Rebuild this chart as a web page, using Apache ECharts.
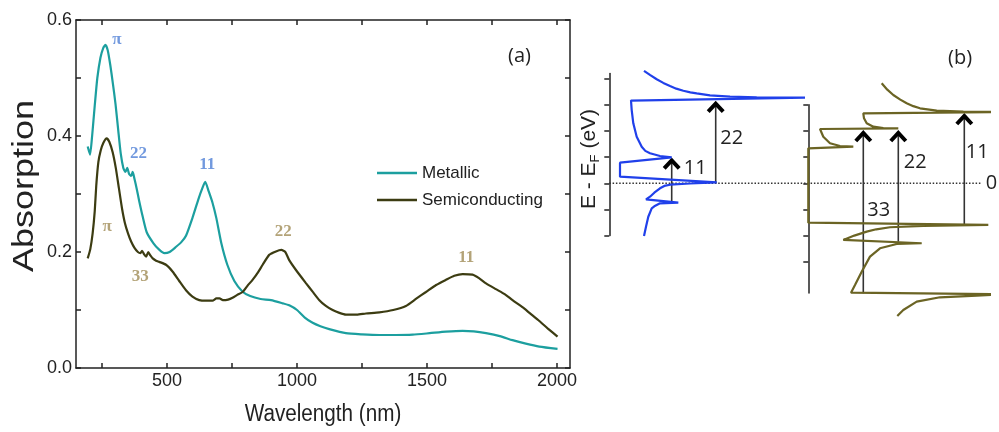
<!DOCTYPE html>
<html>
<head>
<meta charset="utf-8">
<script src="https://cdn.jsdelivr.net/npm/echarts@6/dist/echarts.min.js"></script>
<style>
html, body { margin: 0; padding: 0; background: #ffffff; }
#chart { width: 999px; height: 432px; }
</style>
</head>
<body>
<div id="chart"></div>
<script>
// ---------- (a) absorption spectra: [wavelength (nm), absorption] ----------
const metallic = [
  [195,0.382],[204,0.368],[212,0.40],[222,0.452],[232,0.50],[244,0.535],[255,0.552],[263,0.557],
  [272,0.548],[282,0.522],[292,0.49],[302,0.455],[312,0.412],[322,0.37],[332,0.345],[340,0.338],
  [347,0.345],[354,0.335],[362,0.331],[368,0.338],[375,0.326],[383,0.31],[393,0.288],[406,0.262],
  [422,0.234],[448,0.215],[470,0.204],[490,0.198],[510,0.200],[535,0.209],[555,0.217],[573,0.228],
  [598,0.259],[620,0.290],[636,0.310],[647,0.321],[660,0.305],[675,0.285],[690,0.258],[709,0.215],
  [732,0.178],[759,0.150],[790,0.132],[820,0.124],[860,0.119],[900,0.117],[945,0.1115],[970,0.108],
  [1000,0.100],[1030,0.087],[1060,0.078],[1090,0.072],[1124,0.067],[1188,0.060],[1250,0.058],
  [1317,0.0569],[1380,0.0569],[1445,0.0575],[1510,0.060],[1573,0.0626],[1637,0.064],[1680,0.063],
  [1727,0.060],[1780,0.055],[1829,0.048],[1880,0.042],[1932,0.037],[2002,0.033]
];
const semiconducting = [
  [195,0.189],[205,0.205],[214,0.232],[222,0.27],[228,0.315],[236,0.355],[245,0.375],[255,0.388],
  [268,0.396],[278,0.39],[291,0.372],[303,0.345],[315,0.31],[327,0.275],[338,0.25],[350,0.232],
  [362,0.218],[375,0.207],[388,0.2],[398,0.198],[404,0.202],[412,0.196],[420,0.192],[428,0.2],
  [436,0.194],[445,0.189],[458,0.185],[470,0.183],[496,0.178],[522,0.166],[547,0.15],[573,0.134],
  [598,0.123],[624,0.117],[650,0.116],[675,0.116],[690,0.12],[702,0.12],[715,0.117],[735,0.118],
  [752,0.121],[770,0.126],[791,0.131],[810,0.142],[829,0.152],[850,0.165],[868,0.178],[893,0.195],
  [919,0.201],[940,0.2035],[955,0.2],[970,0.186],[996,0.169],[1035,0.146],[1060,0.1316],[1086,0.117],
  [1111,0.107],[1137,0.1],[1163,0.095],[1188,0.092],[1230,0.092],[1265,0.094],[1317,0.096],
  [1370,0.1],[1419,0.107],[1460,0.12],[1496,0.131],[1535,0.143],[1573,0.152],[1605,0.159],
  [1637,0.162],[1675,0.161],[1700,0.155],[1727,0.146],[1765,0.136],[1800,0.127],[1829,0.117],
  [1870,0.104],[1894,0.095],[1932,0.081],[1965,0.068],[2002,0.054]
];
const xTickLabels = [500, 1000, 1500, 2000];
const xTicks = [250, 500, 750, 1000, 1250, 1500, 1750, 2000];
const yTickLabels = [0, 0.2, 0.4, 0.6];
const yTicks = [0, 0.1, 0.2, 0.3, 0.4, 0.5, 0.6];

// peak assignments, anchored at [nm, absorption]
const metallicPeakText = ['π', '22', '11'];
const metallicPeakAt = [[307, 0.5655], [390, 0.369], [655, 0.35]];
const semiPeakText = ['π', '33', '22', '11'];
const semiPeakAt = [[270, 0.243], [397, 0.157], [947, 0.2345], [1651, 0.19]];

// ---------- (b) density of states: [DOS (a.u.), E - EF] ----------
const metallicDos = [
  [3.47,2.15],[4.1,2.07],[4.74,1.99],[5.4,1.92],[6.07,1.86],[6.7,1.81],[7.4,1.771],[8.1,1.74],
  [8.74,1.721],[10.07,1.683],[12.07,1.656],[14.74,1.644],[18.07,1.64],[19.57,1.637],
  [2.17,1.583],[2.24,1.40],[2.4,1.147],[2.74,0.891],[3.24,0.70],[3.6,0.62],[4.07,0.574],
  [5.07,0.522],[6.24,0.497],
  [1.07,0.394],[1.07,0.126],[10.74,0.019],
  [8.07,-0.004],[6.07,-0.027],[5.5,-0.05],[5.07,-0.096],[4.5,-0.18],[4.07,-0.256],[3.67,-0.306],
  [6.9,-0.371],[5.07,-0.382],[4.5,-0.44],[4.24,-0.478],[3.9,-0.639],[3.67,-0.83],[3.47,-1.008]
];
const semiDos = [
  [7.34,1.912],[7.9,1.79],[8.5,1.688],[9.2,1.6],[9.84,1.53],[10.5,1.475],[11.17,1.434],
  [12.84,1.388],[15.5,1.369],[19.67,1.365],
  [19.67,1.338],[5.5,1.338],[5.57,1.243],[5.84,1.147],[6.5,1.082],[7.5,1.057],[9.0,1.052],
  [1.17,1.038],[1.5,0.891],[2.17,0.765],[3.17,0.713],[4.5,0.70],
  [0,0.669],[0,-0.753],[18.0,-0.797],
  [11.5,-0.816],[8.17,-0.841],[6.8,-0.88],[5.84,-0.925],[4.6,-1.0],[3.5,-1.084],
  [11.34,-1.147],[8.84,-1.161],[7.17,-1.243],[6.17,-1.403],[5.34,-1.69],[4.67,-1.945],[4.27,-2.092],
  [19.67,-2.122],[16.84,-2.149],[13.17,-2.18],[10.84,-2.264],[9.5,-2.423],[8.9,-2.537]
];
const fermiLevel = [[0, 0], [37.24, 0]];
const energyTicksLeft = [-1, -0.5, 0, 0.5, 1, 1.5, 2];
const energyTicksRight = [-1.5, -1, -0.5, 0, 0.5, 1, 1.5];

// optical transitions: [DOS position, from E, to E, label DOS, label E]
const metallicArrowText = ['11', '22'];
const metallicArrows = [[6.24, -0.363, 0.478, 7.45, 0.293], [10.64, 0, 1.56, 11.1, 0.866]];
const semiArrowText = ['33', '22', '11'];
const semiArrows = [[5.5, -2.103, 1.0, 5.9, -0.511], [9.0, -1.117, 1.0, 9.55, 0.398],
                    [15.6, -0.784, 1.325, 15.75, 0.589]];

// ---------- styling ----------
const SANS = 'Liberation Sans, Arial, sans-serif';
const LABEL_FONT = 'Open Sans, Liberation Sans, sans-serif';
const SERIF = 'Liberation Serif, Times New Roman, serif';
const INK = '#222222';
const TEAL = '#1c9f9f';
const OLIVE = '#3c3c12';
const DOS_BLUE = '#2040ea';
const DOS_OLIVE = '#6b6424';

const chart = echarts.init(document.getElementById('chart'), null, { renderer: 'canvas' });

function frameAxis(extra) {
  return Object.assign({
    type: 'value',
    axisLine: { show: true, onZero: false, lineStyle: { color: INK, width: 1.5 } },
    splitLine: { show: false },
    axisLabel: { show: false },
    axisTick: { show: true, inside: true, length: 5, lineStyle: { color: INK, width: 1.5 } }
  }, extra);
}

function arrowRenderer(texts) {
  return function (params, api) {
    const x = api.value(0);
    const p0 = api.coord([x, api.value(1)]);
    const p1 = api.coord([x, api.value(2)]);
    const pl = api.coord([api.value(3), api.value(4)]);
    return {
      type: 'group',
      children: [
        { type: 'line', shape: { x1: p0[0], y1: p0[1], x2: p1[0], y2: p1[1] + 2 },
          style: { stroke: '#333333', lineWidth: 1.6 } },
        { type: 'polyline',
          shape: { points: [[p1[0] - 7.5, p1[1] + 10], [p1[0], p1[1] + 2], [p1[0] + 7.5, p1[1] + 10]] },
          style: { stroke: '#000000', lineWidth: 4, fill: null, lineJoin: 'miter', lineCap: 'butt' } },
        { type: 'text', x: pl[0], y: pl[1],
          style: { text: texts[params.dataIndex], font: '20px ' + LABEL_FONT, fill: INK,
                   verticalAlign: 'middle', align: 'left' } }
      ]
    };
  };
}

function peakNotes(texts, at, color) {
  return at.map((p, i) => ({ value: p, name: texts[i], label: { color: color } }));
}

const option = {
  animation: false,
  backgroundColor: '#ffffff',
  title: [
    { text: '(a)', left: 508, top: 46, padding: 0,
      textStyle: { fontFamily: LABEL_FONT, fontSize: 20, fontWeight: 'normal', color: INK } },
    { text: '(b)', left: 948, top: 48, padding: 0,
      textStyle: { fontFamily: LABEL_FONT, fontSize: 20, fontWeight: 'normal', color: INK } }
  ],
  graphic: [
    { type: 'text', x: 25, y: 186, rotation: Math.PI / 2, scaleX: 1, scaleY: 0.8, silent: true,
      style: { text: 'Absorption', font: '36px ' + SANS, fill: INK, align: 'center', verticalAlign: 'middle' } },
    { type: 'text', x: 323, y: 415, scaleX: 0.88, scaleY: 1, silent: true,
      style: { text: 'Wavelength (nm)', font: '23.5px ' + SANS, fill: INK, align: 'center', verticalAlign: 'middle' } },
    { type: 'text', x: 589, y: 159, rotation: Math.PI / 2, silent: true,
      style: { text: 'E - E{sub|F} (eV)', font: '21px ' + SANS, fill: INK, align: 'center', verticalAlign: 'middle',
               rich: { sub: { font: '13px ' + SANS, fill: INK, verticalAlign: 'bottom', lineHeight: 26 } } } }
  ],
  legend: {
    data: ['Metallic', 'Semiconducting'],
    orient: 'vertical',
    left: 377, top: 163,
    padding: 0,
    icon: 'rect',
    itemWidth: 40, itemHeight: 2.5, itemGap: 7,
    textStyle: { fontFamily: SANS, fontSize: 17, color: INK, lineHeight: 20 }
  },
  grid: [
    { left: 76, top: 20, right: 429, bottom: 64, outerBoundsMode: 'none' },
    { left: 609.3, top: 73.5, right: 17.3, bottom: 196.4, outerBoundsMode: 'none' },
    { left: 808.3, top: 104.85, right: 10.7, bottom: 138.9, outerBoundsMode: 'none' }
  ],
  xAxis: [
    frameAxis({
      gridIndex: 0, position: 'bottom', min: 150, max: 2050,
      axisLabel: { show: true, customValues: xTickLabels, margin: 4,
                   fontFamily: SANS, fontSize: 18, color: INK, formatter: v => String(v) },
      axisTick: { show: true, inside: true, length: 5, customValues: xTicks,
                  lineStyle: { color: INK, width: 1.5 } }
    }),
    frameAxis({
      gridIndex: 0, position: 'top', min: 150, max: 2050,
      axisTick: { show: true, inside: true, length: 5, customValues: xTicks,
                  lineStyle: { color: INK, width: 1.5 } }
    }),
    { type: 'value', gridIndex: 1, min: 0, max: 37.24, show: false },
    { type: 'value', gridIndex: 2, min: 0, max: 18, show: false }
  ],
  yAxis: [
    frameAxis({
      gridIndex: 0, position: 'left', min: 0, max: 0.6,
      axisLabel: { show: true, customValues: yTickLabels, margin: 4,
                   fontFamily: SANS, fontSize: 18, color: INK,
                   formatter: v => v.toFixed(1) },
      axisTick: { show: true, inside: true, length: 5, customValues: yTicks,
                  lineStyle: { color: INK, width: 1.5 } }
    }),
    frameAxis({
      gridIndex: 0, position: 'right', min: 0, max: 0.6,
      axisTick: { show: true, inside: true, length: 5, customValues: yTicks,
                  lineStyle: { color: INK, width: 1.5 } }
    }),
    {
      type: 'value', gridIndex: 1, position: 'left', min: -1, max: 2.1,
      axisLine: { show: true, onZero: false, lineStyle: { color: INK, width: 1.5 } },
      splitLine: { show: false },
      axisLabel: { show: false },
      axisTick: { show: true, inside: false, length: 5, customValues: energyTicksLeft,
                  lineStyle: { color: INK, width: 1.5 } }
    },
    {
      type: 'value', gridIndex: 2, position: 'left', min: -2.1, max: 1.5,
      axisLine: { show: true, onZero: false, lineStyle: { color: INK, width: 1.5 } },
      splitLine: { show: false },
      axisLabel: { show: false },
      axisTick: { show: true, inside: false, length: 5, customValues: energyTicksRight,
                  lineStyle: { color: INK, width: 1.5 } }
    }
  ],
  series: [
    {
      name: 'Metallic', type: 'line', xAxisIndex: 0, yAxisIndex: 0,
      data: metallic, symbol: 'none', smooth: 0.2, color: TEAL,
      lineStyle: { color: TEAL, width: 2.2 }
    },
    {
      name: 'Semiconducting', type: 'line', xAxisIndex: 0, yAxisIndex: 0,
      data: semiconducting, symbol: 'none', smooth: 0.2, color: OLIVE,
      lineStyle: { color: OLIVE, width: 2.2 }
    },
    {
      type: 'scatter', xAxisIndex: 0, yAxisIndex: 0, symbolSize: 1,
      itemStyle: { color: 'transparent' }, silent: true,
      data: peakNotes(metallicPeakText, metallicPeakAt, '#4f80d6'),
      label: { show: true, position: 'inside', formatter: p => p.name,
               fontFamily: SERIF, fontWeight: 'bold', fontSize: 17 }
    },
    {
      type: 'scatter', xAxisIndex: 0, yAxisIndex: 0, symbolSize: 1,
      itemStyle: { color: 'transparent' }, silent: true,
      data: peakNotes(semiPeakText, semiPeakAt, '#a08c56'),
      label: { show: true, position: 'inside', formatter: p => p.name,
               fontFamily: SERIF, fontWeight: 'bold', fontSize: 17 }
    },
    {
      type: 'line', xAxisIndex: 2, yAxisIndex: 2, data: fermiLevel,
      symbol: 'none', silent: true,
      lineStyle: { color: '#333333', width: 1.5, type: [1.5, 1.8] },
      endLabel: { show: true, formatter: '0', distance: 4,
                  fontFamily: LABEL_FONT, fontSize: 20, color: INK }
    },
    {
      type: 'line', xAxisIndex: 2, yAxisIndex: 2, data: metallicDos, clip: false,
      symbol: 'none', silent: true, lineStyle: { color: DOS_BLUE, width: 2.2 }
    },
    {
      type: 'line', xAxisIndex: 3, yAxisIndex: 3, data: semiDos, clip: false,
      symbol: 'none', silent: true, lineStyle: { color: DOS_OLIVE, width: 2.2 }
    },
    {
      type: 'custom', xAxisIndex: 2, yAxisIndex: 2, data: metallicArrows, clip: false,
      silent: true, renderItem: arrowRenderer(metallicArrowText)
    },
    {
      type: 'custom', xAxisIndex: 3, yAxisIndex: 3, data: semiArrows, clip: false,
      silent: true, renderItem: arrowRenderer(semiArrowText)
    }
  ]
};

chart.setOption(option);
</script>
</body>
</html>
